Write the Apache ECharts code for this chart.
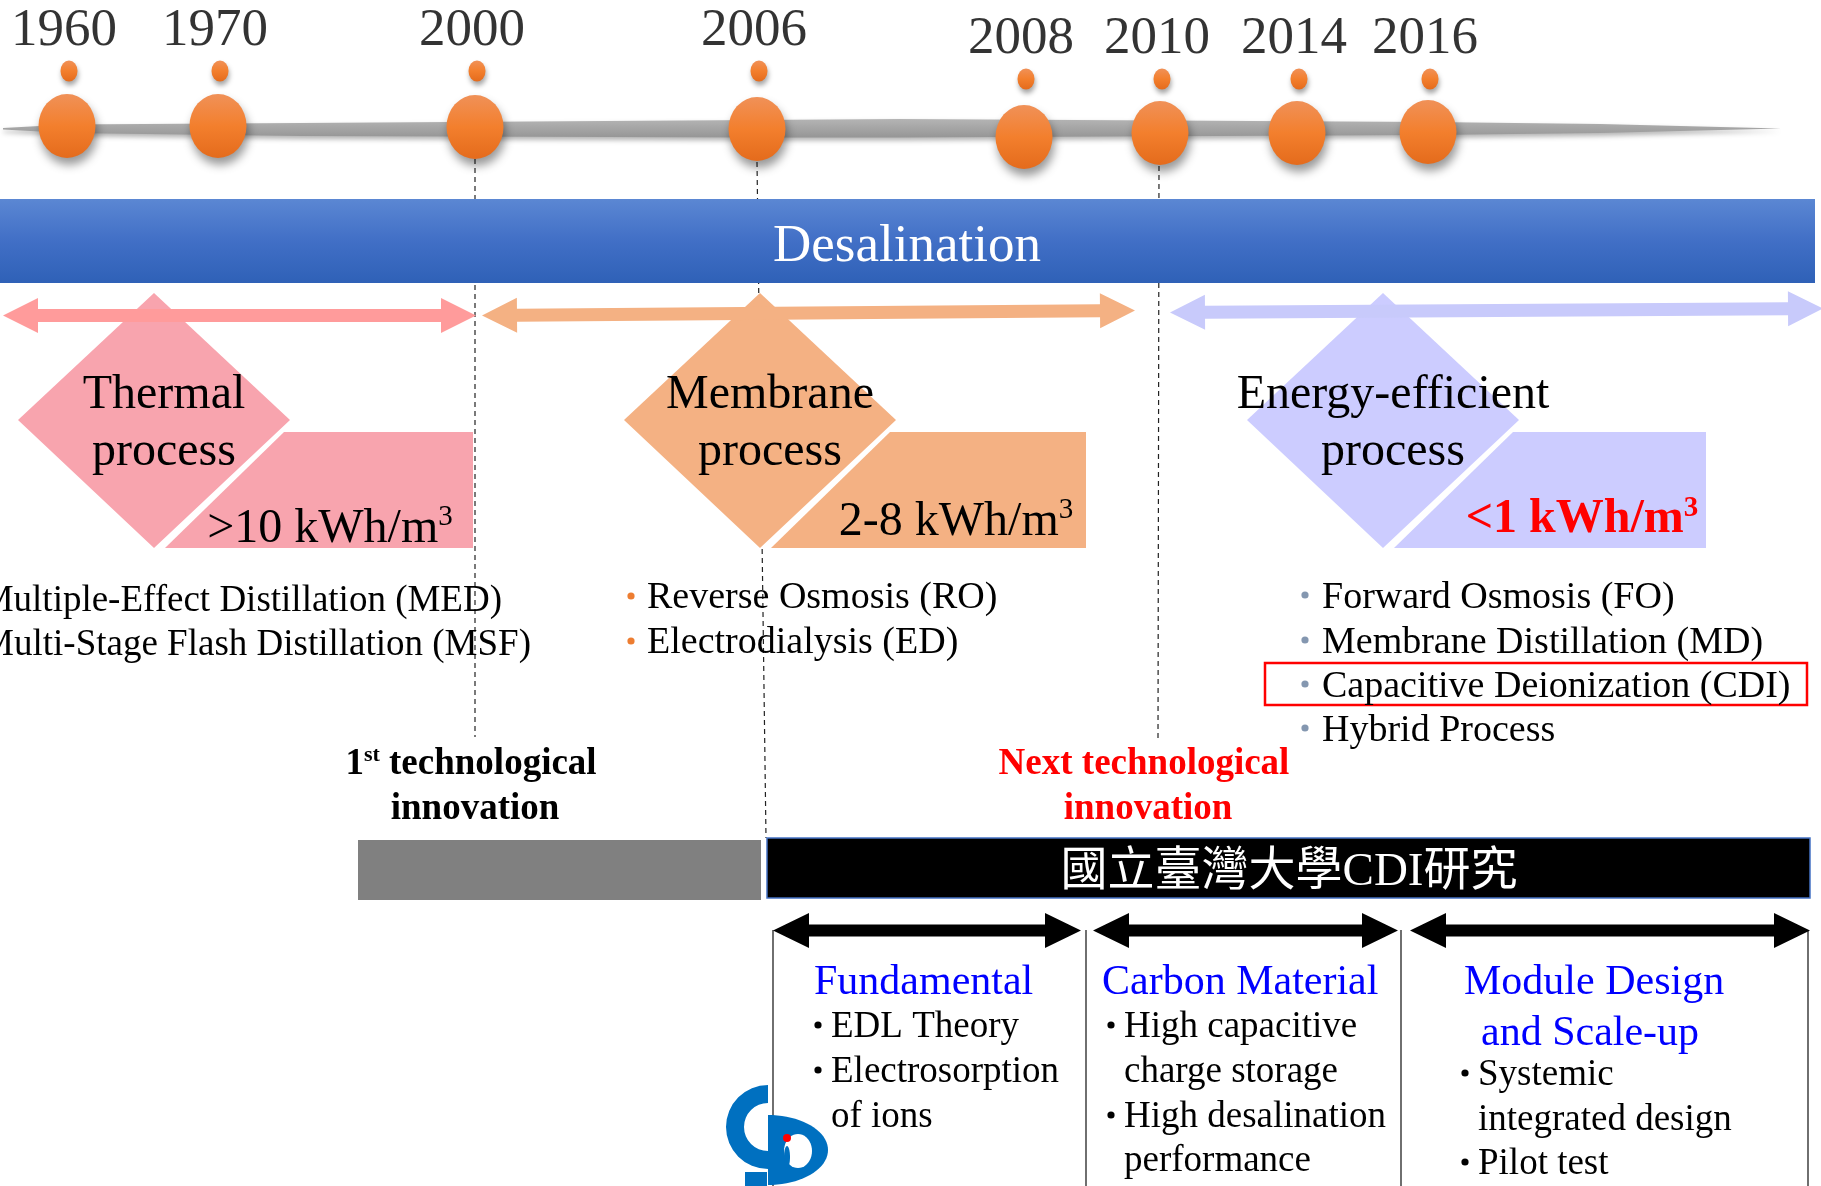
<!DOCTYPE html>
<html>
<head>
<meta charset="utf-8">
<script src="https://cdn.jsdelivr.net/npm/echarts@6/dist/echarts.min.js"></script>
<style>
html, body { margin: 0; padding: 0; background: #fff; }
#main { width: 1821px; height: 1186px; }
</style>
</head>
<body>
<div id="main"></div>
<script>
// timeline
var years = ['1960', '1970', '2000', '2006', '2008', '2010', '2014', '2016'];
var yearAxisPos = [67, 218, 475, 757, 1024, 1160, 1297, 1428];   // place on the timeline axis
var dotLevel = [126, 126, 127, 129, 137, 133, 133, 132];
var smallDotLevel = [71, 71, 71, 71, 79, 79, 79, 79];

// process generations
var processNames = [['Thermal', 'process'], ['Membrane', 'process'], ['Energy-efficient', 'process']];
var processEnergy = ['>10 kWh/m', '2-8 kWh/m', '<1 kWh/m'];
var thermalMethods = ['Multiple-Effect Distillation (MED)', 'Multi-Stage Flash Distillation (MSF)'];
var membraneMethods = ['Reverse Osmosis (RO)', 'Electrodialysis (ED)'];
var efficientMethods = ['Forward Osmosis (FO)', 'Membrane Distillation (MD)', 'Capacitive Deionization (CDI)', 'Hybrid Process'];

// NTU CDI research
var researchTitle = '國立臺灣大學CDI研究';
var researchAreas = [['Fundamental'], ['Carbon Material'], ['Module Design', 'and Scale-up']];
var researchItems = [
    [['EDL Theory'], ['Electrosorption', 'of ions']],
    [['High capacitive', 'charge storage'], ['High desalination', 'performance']],
    [['Systemic', 'integrated design'], ['Pilot test']]
];

var SERIF = '"Liberation Serif", "Times New Roman", serif';
var chart = echarts.init(document.getElementById('main'));
var g = [];

function txt(x, y, text, size, opt) {
    opt = opt || {};
    var st = {
        text: text, fill: opt.color || '#000', fontSize: size,
        fontFamily: opt.family || SERIF, fontWeight: opt.bold ? 'bold' : 'normal',
        align: opt.align || 'left', textAlign: opt.align || 'left',
        verticalAlign: 'middle', textVerticalAlign: 'middle'
    };
    if (opt.rich) st.rich = opt.rich;
    g.push({ type: 'text', x: x, y: y + 3, z: 20, silent: true, style: st });
}
function line(x1, y1, x2, y2, color, w, dash, z) {
    g.push({ type: 'line', z: z, silent: true, shape: { x1: x1, y1: y1, x2: x2, y2: y2 },
        style: { stroke: color, lineWidth: w, lineDash: dash || null } });
}
function poly(pts, fill, z, extra) {
    var st = { fill: fill };
    for (var k in extra) st[k] = extra[k];
    g.push({ type: 'polygon', z: z, silent: true, shape: { points: pts }, style: st });
}
function dblArrow(x1, y1, x2, y2, shaft, head, headLen, color, z) {
    var dx = x2 - x1, dy = y2 - y1, L = Math.sqrt(dx * dx + dy * dy);
    var ux = dx / L, uy = dy / L, nx = -uy, ny = ux;
    function p(t, s) { return [x1 + ux * t + nx * s, y1 + uy * t + ny * s]; }
    poly([p(0, 0), p(headLen, -head), p(headLen, -shaft), p(L - headLen, -shaft), p(L - headLen, -head),
        p(L, 0), p(L - headLen, head), p(L - headLen, shaft), p(headLen, shaft), p(headLen, head)], color, z);
}
// ellipse arc as polygon points
function arcPts(cx, cy, rx, ry, a0, a1) {
    var pts = [];
    for (var t = 0; t <= 40; t++) {
        var a = a0 + (a1 - a0) * t / 40;
        pts.push([cx + rx * Math.cos(a), cy + ry * Math.sin(a)]);
    }
    return pts;
}
function dot(cx, cy, r, color) {
    g.push({ type: 'circle', z: 21, silent: true, shape: { cx: cx, cy: cy, r: r }, style: { fill: color } });
}

// grey timeline bar
poly([[3, 128], [67, 124.5], [300, 123], [757, 120], [900, 119], [1430, 122], [1600, 124], [1781, 128.5],
      [1600, 133], [1430, 135], [900, 137.5], [757, 137.5], [300, 136], [67, 133], [3, 129.5]],
    new echarts.graphic.LinearGradient(0, 0, 0, 1, [{ offset: 0, color: '#b4b4b4' }, { offset: 1, color: '#969696' }]),
    1, { shadowBlur: 5, shadowOffsetY: 3, shadowColor: 'rgba(0,0,0,0.3)' });

// dashed guides
line(475, 159, 475, 737, '#222', 1.2, [5, 4], 2);
line(757, 162, 766, 838, '#222', 1.2, [5, 4], 2);
line(1159, 166, 1158, 740, '#222', 1.2, [5, 4], 2);

// Desalination banner
g.push({ type: 'rect', z: 3, silent: true, shape: { x: 0, y: 199, width: 1815, height: 84 },
    style: { fill: new echarts.graphic.LinearGradient(0, 0, 0, 1, [
        { offset: 0, color: '#5b87d3' }, { offset: 0.5, color: '#416fc6' }, { offset: 1, color: '#2f61b7' }]) } });
txt(907, 244, 'Desalination', 53, { color: '#fff', align: 'center' });

// process diamonds + energy boxes
var procCx = [154, 760, 1383];
var boxRight = [473, 1086, 1706];
var procColor = ['#f8a4ae', '#f4b183', '#ccccff'];
var energyColor = ['#000', '#000', '#ff0000'];
var energyMid = [526, 519, 517];
var energyCx = [330, 956, 1582];
for (var i = 0; i < 3; i++) {
    var cx = procCx[i];
    poly([[cx, 293], [cx + 136, 420], [cx, 548], [cx - 136, 420]], procColor[i], 4);
    poly([[cx + 130, 432], [boxRight[i], 432], [boxRight[i], 548], [cx + 11, 548]], procColor[i], 4);
    txt(cx + 10, 392, processNames[i][0], 48, { align: 'center' });
    txt(cx + 10, 449, processNames[i][1], 48, { align: 'center' });
    var bold = i === 2;
    txt(energyCx[i], energyMid[i], '{a|' + processEnergy[i] + '}{s|3}', 48, {
        align: 'center', color: energyColor[i], bold: bold,
        rich: {
            a: { fontSize: 48, fontFamily: SERIF, fontWeight: bold ? 'bold' : 'normal', fill: energyColor[i], lineHeight: 52 },
            s: { fontSize: 29, fontFamily: SERIF, fontWeight: bold ? 'bold' : 'normal', fill: energyColor[i], verticalAlign: 'top', lineHeight: 30 }
        }
    });
}

// era arrows
dblArrow(3, 315.5, 476, 315.5, 6.5, 17.5, 35, '#ff9b9b', 5);
dblArrow(482, 315.5, 1135, 310.5, 6.5, 17.5, 35, '#f4b183', 5);
dblArrow(1170, 312.5, 1823, 308.5, 6.5, 17.5, 35, '#c8cafb', 5);

// method lists
for (var i = 0; i < thermalMethods.length; i++) {
    txt([502, 531][i], [598, 642][i], thermalMethods[i], 37, { align: 'right' });
}
for (var i = 0; i < membraneMethods.length; i++) {
    dot(631, 596 + i * 45, 3.6, '#ed7d31');
    txt(647, 595 + i * 45, membraneMethods[i], 38);
}
for (var i = 0; i < efficientMethods.length; i++) {
    var y = [595, 640, 684, 728][i];
    dot(1305, y, 3.6, '#8497b0');
    txt(1322, y, efficientMethods[i], 38);
}
g.push({ type: 'rect', z: 6, silent: true, shape: { x: 1265, y: 663, width: 542, height: 42 },
    style: { fill: 'none', stroke: '#ff0000', lineWidth: 2.5 } });

// innovation labels
txt(471, 761, '{a|1}{s|st}{a| technological}', 37, { align: 'center', bold: true,
    rich: { a: { fontSize: 37, fontFamily: SERIF, fontWeight: 'bold', fill: '#000', lineHeight: 40 },
            s: { fontSize: 22, fontFamily: SERIF, fontWeight: 'bold', fill: '#000', verticalAlign: 'top', lineHeight: 24 } } });
txt(475, 806, 'innovation', 37, { align: 'center', bold: true });
txt(1144, 761, 'Next technological', 37, { align: 'center', bold: true, color: '#ff0000' });
txt(1148, 806, 'innovation', 37, { align: 'center', bold: true, color: '#ff0000' });

// research bars
g.push({ type: 'rect', z: 6, silent: true, shape: { x: 358, y: 840, width: 403, height: 60 }, style: { fill: '#808080' } });
g.push({ type: 'rect', z: 6, silent: true, shape: { x: 767, y: 838, width: 1043, height: 60 },
    style: { fill: '#000', stroke: '#4472c4', lineWidth: 1.5 } });
txt(1289, 870, researchTitle, 47, { align: 'center', color: '#fff', family: '"Liberation Serif", "Noto Sans CJK TC", serif' });

// research columns
var colArrow = [[773, 1081], [1093, 1398], [1410, 1810]];
var colLines = [773, 1086, 1401, 1808];
for (var i = 0; i < colLines.length; i++) line(colLines[i], 930, colLines[i], 1186, '#222', 1.3, null, 6);
for (var i = 0; i < colArrow.length; i++) dblArrow(colArrow[i][0], 930.5, colArrow[i][1], 930.5, 6, 17.5, 36, '#000', 7);

var headX = [[814], [1102], [1464, 1481]];
var bulletX = [818, 1111, 1465];
var itemX = [831, 1124, 1478];
var itemRows = [[1024, 1069, 1114, 1158], [1024, 1069, 1114, 1158], [1072, 1117, 1161]];
for (var c = 0; c < 3; c++) {
    for (var j = 0; j < researchAreas[c].length; j++) {
        txt(headX[c][j], 980 + j * 51, researchAreas[c][j], 42, { color: '#0000ff' });
    }
    var r = 0;
    for (var k = 0; k < researchItems[c].length; k++) {
        for (var j = 0; j < researchItems[c][k].length; j++) {
            if (j === 0) dot(bulletX[c], itemRows[c][r] + 1, 3.6, '#000');
            txt(itemX[c], itemRows[c][r], researchItems[c][k][j], 37);
            r++;
        }
    }
}

// CDI logo
g.push({ type: 'sector', z: 22, silent: true,
    shape: { cx: 768, cy: 1127, r: 42, r0: 24, startAngle: Math.PI / 2, endAngle: Math.PI * 1.5 },
    style: { fill: '#0070c0' } });
poly(arcPts(768, 1150, 60, 35, -Math.PI / 2, Math.PI / 2), '#0070c0', 23);
poly(arcPts(798, 1151, 14, 17, 0, Math.PI * 2), '#fff', 24);
poly(arcPts(787, 1157, 3, 11, 0, Math.PI * 2), '#0070c0', 25);
g.push({ type: 'circle', z: 25, silent: true, shape: { cx: 787, cy: 1138, r: 4 }, style: { fill: '#ff0000' } });
g.push({ type: 'rect', z: 22, silent: true, shape: { x: 745, y: 1172, width: 22, height: 14 }, style: { fill: '#0070c0' } });

var orange = new echarts.graphic.LinearGradient(0, 0, 0, 1, [
    { offset: 0, color: '#f09158' }, { offset: 0.5, color: '#f37f2d' }, { offset: 1, color: '#e46b1c' }]);

var bigDots = [], smallDots = [], yearLabels = [];
for (var i = 0; i < years.length; i++) {
    bigDots.push([yearAxisPos[i], dotLevel[i]]);
    smallDots.push([yearAxisPos[i] + 2, smallDotLevel[i]]);
    yearLabels.push({ value: [yearAxisPos[i] - 3, smallDotLevel[i] - 40], name: years[i] });
}

var option = {
    animation: false,
    grid: { left: 0, right: 0, top: 0, bottom: 0 },
    xAxis: { type: 'value', min: 0, max: 1821, show: false },
    yAxis: { type: 'value', min: 0, max: 1186, inverse: true, show: false },
    series: [
        {
            type: 'scatter', z: 5, silent: true, data: bigDots, symbol: 'circle', symbolSize: [57, 64],
            itemStyle: { color: orange, opacity: 1, shadowBlur: 10, shadowOffsetX: 2, shadowOffsetY: 7, shadowColor: 'rgba(0,0,0,0.4)' }
        },
        {
            type: 'scatter', z: 5, silent: true, data: smallDots, symbol: 'circle', symbolSize: [17, 21],
            itemStyle: { color: orange, opacity: 1, shadowBlur: 5, shadowOffsetX: 1, shadowOffsetY: 4, shadowColor: 'rgba(0,0,0,0.35)' }
        },
        {
            type: 'scatter', z: 5, silent: true, data: yearLabels, symbolSize: 1,
            itemStyle: { color: 'rgba(0,0,0,0)' },
            label: { show: true, position: 'inside', formatter: '{b}', fontSize: 53, fontFamily: SERIF, color: '#000' }
        }
    ],
    graphic: { elements: g }
};
chart.setOption(option);
</script>
</body>
</html>
